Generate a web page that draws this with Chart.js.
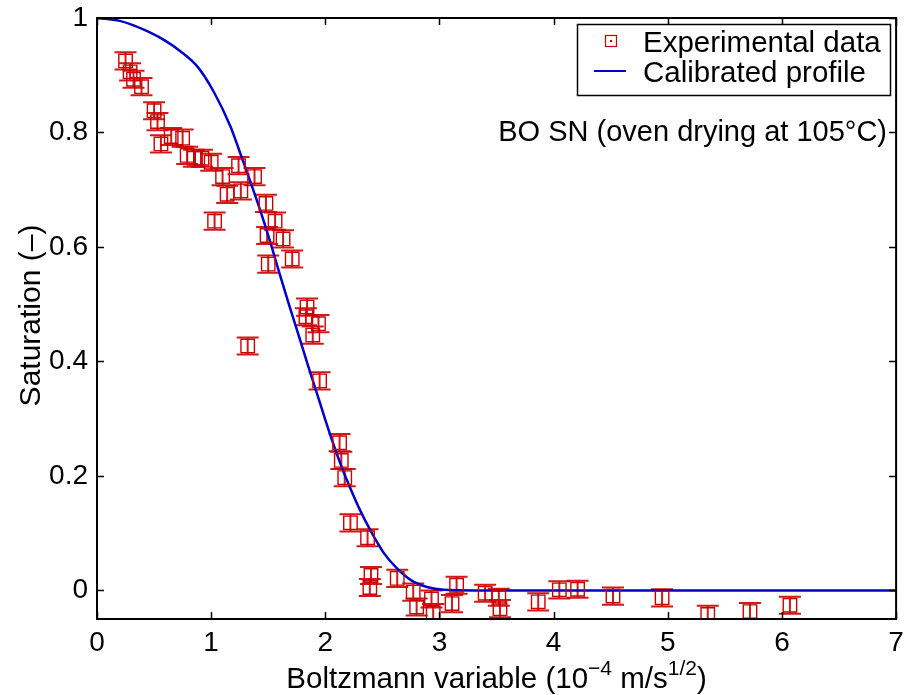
<!DOCTYPE html>
<html>
<head>
<meta charset="utf-8">
<script src="https://cdn.jsdelivr.net/npm/chart.js@4.4.1/dist/chart.umd.min.js"></script>
<style>
  html, body { margin: 0; padding: 0; background: #fff; }
  canvas { display: block; }
</style>
</head>
<body>
<canvas id="chart" width="907" height="695" style="width:907px;height:695px"></canvas>
<script>
// Experimental points: Boltzmann variable (1e-4 m/s^1/2) and saturation
var expX = [0.25, 0.29, 0.32, 0.39, 0.50, 0.53, 0.56, 0.65, 0.75, 0.79, 0.85, 0.92,
            1.00, 1.03, 1.10, 1.14, 1.24, 1.26, 1.32, 1.38, 1.48, 1.49, 1.50, 1.56,
            1.63, 1.71, 1.83, 1.84, 1.89, 1.94, 1.95, 2.125, 2.14, 2.17, 2.22, 2.37,
            2.40, 2.39, 2.63, 2.67, 2.77, 2.80, 2.93, 2.945, 3.11, 3.15, 3.40, 3.52,
            3.53, 3.865, 4.05, 4.21, 4.52, 4.95, 5.35, 5.72, 6.07];
var expY = [0.925, 0.906, 0.893, 0.880, 0.838, 0.819, 0.780, 0.793, 0.790, 0.760, 0.755, 0.755,
            0.748, 0.645, 0.723, 0.692, 0.742, 0.698, 0.427, 0.723, 0.676, 0.620, 0.570, 0.645,
            0.614, 0.579, 0.478, 0.495, 0.446, 0.466, 0.366, 0.258, 0.227, 0.197, 0.118, 0.092,
            0.026, 0.005, 0.021, -0.065, -0.003, -0.029, -0.015, -0.039, -0.023, 0.009, -0.005, -0.012,
            -0.032, -0.020, 0.001, 0.002, -0.010, -0.013, -0.042, -0.037, -0.026];
var errY = 0.015;

// Calibrated profile
var fitX = [0, 0.2, 0.44, 0.6, 0.73, 0.88, 1.02, 1.17, 1.24, 1.31, 1.43, 1.52, 1.60, 1.69,
            1.78, 1.85, 1.93, 2.0, 2.07, 2.15, 2.22, 2.30, 2.40, 2.51, 2.63, 2.75, 2.89,
            3.04, 3.3, 4, 5, 6, 7];
var fitY = [1, 0.995, 0.977, 0.96, 0.942, 0.915, 0.872, 0.81, 0.772, 0.733, 0.664, 0.607, 0.553, 0.494,
            0.437, 0.392, 0.342, 0.298, 0.256, 0.212, 0.178, 0.142, 0.103, 0.066, 0.038, 0.018, 0.006,
            0.001, 0, 0, 0, 0, 0];

var xTicks = [0, 1, 2, 3, 4, 5, 6, 7];
var yTicks = [0, 0.2, 0.4, 0.6, 0.8, 1];

var RED = '#cc0000';
var BLUE = '#0000cc';
var FONT = '"Liberation Sans", Arial, Helvetica, sans-serif';

var expPoints = expX.map(function (x, i) { return { x: x, y: expY[i] }; });
var fitPoints = fitX.map(function (x, i) { return { x: x, y: fitY[i] }; });

// vertical error bars with caps, drawn under the markers
var errorBars = {
    id: 'errorBars',
    beforeDatasetsDraw: function (chart) {
        var ctx = chart.ctx, xs = chart.scales.x, ys = chart.scales.y, a = chart.chartArea;
        ctx.save();
        ctx.beginPath();
        ctx.rect(a.left, a.top, a.right - a.left, a.bottom - a.top);
        ctx.clip();
        ctx.strokeStyle = 'rgba(204,0,0,0.9)';
        ctx.lineWidth = 2;
        expPoints.forEach(function (p) {
            var px = xs.getPixelForValue(p.x);
            var top = ys.getPixelForValue(p.y + errY);
            var bot = ys.getPixelForValue(p.y - errY);
            ctx.beginPath();
            ctx.moveTo(px, top); ctx.lineTo(px, bot);
            ctx.moveTo(px - 11, top); ctx.lineTo(px + 11, top);
            ctx.moveTo(px - 11, bot); ctx.lineTo(px + 11, bot);
            ctx.stroke();
        });
        ctx.restore();
    }
};

// box, inward ticks, legend, note and axis titles
var decorations = {
    id: 'decorations',
    afterDraw: function (chart) {
        var ctx = chart.ctx, xs = chart.scales.x, ys = chart.scales.y, a = chart.chartArea;
        var tl = 7;
        ctx.save();
        ctx.strokeStyle = '#000';
        ctx.lineWidth = 1.5;
        ctx.beginPath();
        xTicks.forEach(function (v) {
            var px = Math.round(xs.getPixelForValue(v)) + 0.5;
            ctx.moveTo(px, a.bottom); ctx.lineTo(px, a.bottom - tl);
            ctx.moveTo(px, a.top); ctx.lineTo(px, a.top + tl);
        });
        yTicks.forEach(function (v) {
            var py = Math.round(ys.getPixelForValue(v)) + 0.5;
            ctx.moveTo(a.left, py); ctx.lineTo(a.left + tl, py);
            ctx.moveTo(a.right, py); ctx.lineTo(a.right - tl, py);
        });
        ctx.stroke();
        ctx.lineWidth = 2;
        ctx.strokeRect(a.left, a.top, a.right - a.left, a.bottom - a.top);

        // legend
        ctx.fillStyle = '#fff';
        ctx.fillRect(577, 24, 314, 72);
        ctx.lineWidth = 1.5;
        ctx.strokeRect(577.5, 24.5, 313, 71);
        ctx.strokeStyle = RED;
        ctx.lineWidth = 1.2;
        ctx.strokeRect(605.5, 35.5, 11, 11);
        ctx.fillStyle = RED;
        ctx.fillRect(610, 40, 2, 2);
        ctx.strokeStyle = BLUE;
        ctx.lineWidth = 2;
        ctx.beginPath();
        ctx.moveTo(594, 71); ctx.lineTo(626, 71);
        ctx.stroke();
        ctx.fillStyle = '#000';
        ctx.font = '29.5px ' + FONT;
        ctx.textAlign = 'left';
        ctx.textBaseline = 'alphabetic';
        ctx.fillText('Experimental data', 643, 52);
        ctx.fillText('Calibrated profile', 643, 82);

        // note
        ctx.textAlign = 'right';
        ctx.font = '29px ' + FONT;
        ctx.fillText('BO SN (oven drying at 105\u00B0C)', 887, 141);

        // y title
        ctx.save();
        ctx.translate(40, (a.top + a.bottom) / 2 - 3);
        ctx.rotate(-Math.PI / 2);
        ctx.textAlign = 'center';
        ctx.font = '30px ' + FONT;
        ctx.fillText('Saturation (\u2013)', 0, 0);
        ctx.restore();

        // x title with superscripts
        var parts = [
            { t: 'Boltzmann variable (10', sup: false },
            { t: '\u22124', sup: true },
            { t: ' m/s', sup: false },
            { t: '1/2', sup: true },
            { t: ')', sup: false }
        ];
        var big = '29.5px ' + FONT, small = '21px ' + FONT;
        var total = 0;
        parts.forEach(function (p) {
            ctx.font = p.sup ? small : big;
            p.w = ctx.measureText(p.t).width;
            total += p.w;
        });
        var x = (a.left + a.right) / 2 - total / 2, base = 688;
        ctx.textAlign = 'left';
        parts.forEach(function (p) {
            ctx.font = p.sup ? small : big;
            ctx.fillText(p.t, x, p.sup ? base - 13 : base);
            x += p.w;
        });
        ctx.restore();
    }
};

var ctx = document.getElementById('chart').getContext('2d');
var chart = new Chart(ctx, {
    type: 'scatter',
    data: {
        datasets: [{
            label: 'Experimental data',
            data: expPoints,
            showLine: false,
            pointStyle: 'rect',
            pointRadius: 9.5,
            pointHoverRadius: 9.5,
            pointBorderWidth: 1.4,
            pointBorderColor: RED,
            pointBackgroundColor: 'rgba(0,0,0,0)'
        }, {
            label: 'Calibrated profile',
            data: fitPoints,
            showLine: true,
            borderColor: BLUE,
            borderWidth: 2.5,
            pointRadius: 0,
            cubicInterpolationMode: 'monotone',
            fill: false
        }]
    },
    options: {
        responsive: false,
        devicePixelRatio: 1,
        animation: false,
        events: [],
        layout: { padding: { left: 0, right: 10, top: 18, bottom: 0 } },
        plugins: {
            legend: { display: false },
            tooltip: { enabled: false }
        },
        scales: {
            x: {
                type: 'linear',
                min: 0,
                max: 7,
                afterBuildTicks: function (s) { s.ticks = xTicks.map(function (v) { return { value: v }; }); },
                afterFit: function (s) { s.height = 76; s.paddingLeft = 0; s.paddingRight = 0; },
                grid: { display: false, drawTicks: false },
                border: { display: false },
                ticks: {
                    padding: 7,
                    color: '#000',
                    font: { family: FONT, size: 28 },
                    maxRotation: 0
                }
            },
            y: {
                type: 'linear',
                min: -0.05,
                max: 1,
                afterBuildTicks: function (s) { s.ticks = yTicks.map(function (v) { return { value: v }; }); },
                afterFit: function (s) { s.width = 97; s.paddingTop = 0; s.paddingBottom = 0; },
                grid: { display: false, drawTicks: false },
                border: { display: false },
                ticks: {
                    padding: 9,
                    color: '#000',
                    font: { family: FONT, size: 28 },
                    callback: function (v) { return String(Math.round(v * 10) / 10); }
                }
            }
        }
    },
    plugins: [errorBars, decorations]
});
</script>
</body>
</html>
